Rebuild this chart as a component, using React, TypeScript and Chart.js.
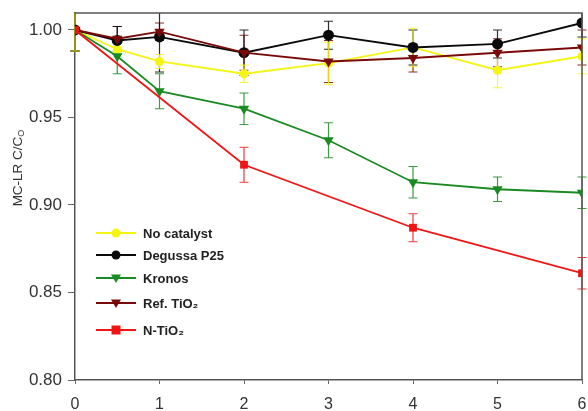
import React, { useEffect, useRef } from "react";
import { Chart, registerables } from "chart.js";

Chart.register(...registerables);

// ---- data ----
const timeCommon = [0, 0.5, 1, 2, 3, 4, 5, 6];
const timeN = [0, 2, 4, 6];
const xTickValues = [0, 1, 2, 3, 4, 5, 6];
const yTickValues = [0.8, 0.85, 0.9, 0.95, 1.0];

const noCatalyst = [1.0, 0.989, 0.982, 0.975, 0.981, 0.99, 0.977, 0.985];
const noCatalystErr = [0.012, 0.004, 0.004, 0.005, 0.012, 0.011, 0.01, 0.01];

const degussa = [1.0, 0.994, 0.996, 0.987, 0.997, 0.99, 0.992, 1.004];
const degussaErr = [0.012, 0.008, 0.02, 0.013, 0.008, 0.01, 0.008, 0.008];

const kronos = [1.0, 0.985, 0.965, 0.955, 0.937, 0.913, 0.909, 0.907];
const kronosErr = [0.012, 0.01, 0.01, 0.009, 0.01, 0.009, 0.007, 0.009];

const refTiO2 = [1.0, 0.995, 0.999, 0.987, 0.982, 0.984, 0.987, 0.99];
const refTiO2Err = [0.012, 0.007, 0.005, 0.01, 0.012, 0.008, 0.008, 0.01];

const nTiO2 = [1.0, 0.923, 0.887, 0.861];
const nTiO2Err = [0.012, 0.01, 0.008, 0.009];

const seriesLabels = ["No catalyst", "Degussa P25", "Kronos", "Ref. TiO₂", "N-TiO₂"];
const yTitleMain = "MC-LR C/C";
const yTitleSub = "O";

const FONT = "'Liberation Sans', Arial, sans-serif";

const toXY = (xs: number[], ys: number[]) => xs.map((x, i) => ({ x, y: ys[i] }));

const errorBarsPlugin = {
  id: "errorBars",
  beforeDatasetsDraw(chart: any) {
    const ctx = chart.ctx;
    const yScale = chart.scales.y;
    const area = chart.chartArea;
    ctx.save();
    ctx.beginPath();
    ctx.rect(0, area.top, chart.width, area.bottom - area.top);
    ctx.clip();
    const n = chart.data.datasets.length;
    for (let i = n - 1; i >= 0; i--) {
      const ds: any = chart.data.datasets[i];
      const meta = chart.getDatasetMeta(i);
      const errs: number[] = ds.errorBars || [];
      ctx.strokeStyle = ds.borderColor;
      ctx.globalAlpha = 0.85;
      ctx.lineWidth = 1.2;
      meta.data.forEach((pt: any, j: number) => {
        const v = ds.data[j].y;
        const e = errs[j] || 0;
        if (!e) return;
        const x = pt.x;
        const yt = yScale.getPixelForValue(v + e);
        const yb = yScale.getPixelForValue(v - e);
        ctx.beginPath();
        ctx.moveTo(x, yt);
        ctx.lineTo(x, yb);
        ctx.moveTo(x - 4.5, yt);
        ctx.lineTo(x + 4.5, yt);
        ctx.moveTo(x - 4.5, yb);
        ctx.lineTo(x + 4.5, yb);
        ctx.stroke();
      });
    }
    ctx.restore();
  },
};

const framePlugin = {
  id: "frame",
  afterDraw(chart: any) {
    const { ctx, chartArea: a } = chart;
    ctx.save();
    ctx.strokeStyle = "#555";
    ctx.lineWidth = 1.5;
    ctx.beginPath();
    ctx.moveTo(a.left, a.top);
    ctx.lineTo(a.right, a.top);
    ctx.lineTo(a.right, a.bottom);
    ctx.stroke();
    ctx.restore();
  },
};

const yTitlePlugin = {
  id: "yTitleCustom",
  afterDraw(chart: any) {
    const ctx = chart.ctx;
    ctx.save();
    ctx.translate(18, 168);
    ctx.rotate(-Math.PI / 2);
    ctx.fillStyle = "#333";
    ctx.textBaseline = "middle";
    ctx.font = `13.5px ${FONT}`;
    const wMain = ctx.measureText(yTitleMain).width;
    ctx.font = `9px ${FONT}`;
    const wSub = ctx.measureText(yTitleSub).width;
    const start = -(wMain + wSub) / 2;
    ctx.font = `13.5px ${FONT}`;
    ctx.textAlign = "left";
    ctx.fillText(yTitleMain, start, 0);
    ctx.font = `9px ${FONT}`;
    ctx.fillText(yTitleSub, start + wMain, 4);
    ctx.restore();
  },
};

const legendPlugin = {
  id: "insideLegend",
  afterDraw(chart: any) {
    const ctx = chart.ctx;
    const rows = [233, 255, 278, 303, 330];
    const x0 = 96;
    const x1 = 136;
    const xm = (x0 + x1) / 2;
    ctx.save();
    chart.data.datasets.forEach((ds: any, i: number) => {
      const y = rows[i];
      ctx.strokeStyle = ds.borderColor;
      ctx.lineWidth = 2;
      ctx.beginPath();
      ctx.moveTo(x0, y);
      ctx.lineTo(x1, y);
      ctx.stroke();
      ctx.fillStyle = ds.backgroundColor;
      const style = ds.pointStyle;
      ctx.beginPath();
      if (style === "circle") {
        ctx.arc(xm, y, 4.5, 0, Math.PI * 2);
      } else if (style === "rect") {
        ctx.rect(xm - 4.5, y - 4.5, 9, 9);
      } else {
        ctx.moveTo(xm - 5, y - 3.5);
        ctx.lineTo(xm + 5, y - 3.5);
        ctx.lineTo(xm, y + 5);
        ctx.closePath();
      }
      ctx.fill();
      ctx.fillStyle = "#222";
      ctx.font = `bold 13px ${FONT}`;
      ctx.textBaseline = "middle";
      ctx.textAlign = "left";
      ctx.fillText(ds.label, 143, y + 1);
    });
    ctx.restore();
  },
};

export default function App() {
  const ref = useRef<HTMLCanvasElement | null>(null);

  useEffect(() => {
    document.body.style.margin = "0";
    const canvas = ref.current;
    if (!canvas) return;

    const mk = (
      label: string,
      xs: number[],
      ys: number[],
      errs: number[],
      color: string,
      pointStyle: string,
      rotation: number,
      radius: number,
      order: number
    ) => ({
      label,
      data: toXY(xs, ys),
      errorBars: errs,
      borderColor: color,
      backgroundColor: color,
      pointBackgroundColor: color,
      pointBorderColor: color,
      pointStyle,
      pointRotation: rotation,
      pointRadius: radius,
      pointBorderWidth: 0,
      borderWidth: 1.8,
      tension: 0,
      order,
    });

    const chart = new Chart(canvas, {
      type: "line",
      data: {
        datasets: [
          mk(seriesLabels[0], timeCommon, noCatalyst, noCatalystErr, "#f5f514", "circle", 0, 4.5, 4),
          mk(seriesLabels[1], timeCommon, degussa, degussaErr, "#0a0a0a", "circle", 0, 5.5, 3),
          mk(seriesLabels[2], timeCommon, kronos, kronosErr, "#1a8a22", "triangle", 180, 6, 2),
          mk(seriesLabels[3], timeCommon, refTiO2, refTiO2Err, "#7a0a0a", "triangle", 180, 6, 1),
          mk(seriesLabels[4], timeN, nTiO2, nTiO2Err, "#f01515", "rect", 0, 5.5, 0),
        ] as any,
      },
      options: {
        animation: false,
        responsive: false,
        maintainAspectRatio: false,
        layout: { padding: { top: 13, right: 6, left: 0, bottom: 0 } },
        plugins: {
          legend: { display: false },
          tooltip: { enabled: false },
        },
        scales: {
          x: {
            type: "linear",
            min: 0,
            max: 6,
            afterBuildTicks: (s: any) => {
              s.ticks = xTickValues.map((v) => ({ value: v }));
            },
            afterFit: (s: any) => {
              s.height = 31;
              s.paddingLeft = 0;
              s.paddingRight = 0;
            },
            ticks: {
              color: "#333",
              font: { size: 16, family: FONT },
              padding: 11,
              maxRotation: 0,
              callback: (v: any) => String(v),
            },
            grid: { display: true, drawOnChartArea: false, drawTicks: true, tickLength: 4, color: "#666" },
            border: { display: true, color: "#555", width: 1.5 },
          },
          y: {
            type: "linear",
            min: 0.8,
            max: 1.0097,
            afterBuildTicks: (s: any) => {
              s.ticks = yTickValues.map((v) => ({ value: v }));
            },
            afterFit: (s: any) => {
              s.width = 75;
              s.paddingTop = 0;
              s.paddingBottom = 0;
            },
            ticks: {
              color: "#333",
              font: { size: 17, family: FONT },
              padding: 6,
              callback: (v: any) => Number(v).toFixed(2),
            },
            grid: { display: true, drawOnChartArea: false, drawTicks: true, tickLength: 7, color: "#666" },
            border: { display: true, color: "#555", width: 1.5 },
          },
        },
      },
      plugins: [errorBarsPlugin, framePlugin, legendPlugin, yTitlePlugin],
    });
    return () => chart.destroy();
  }, []);

  return (
    <div style={{ width: 588, height: 411 }}>
      <canvas ref={ref} width={588} height={411} style={{ width: 588, height: 411, display: "block" }} />
    </div>
  );
}
